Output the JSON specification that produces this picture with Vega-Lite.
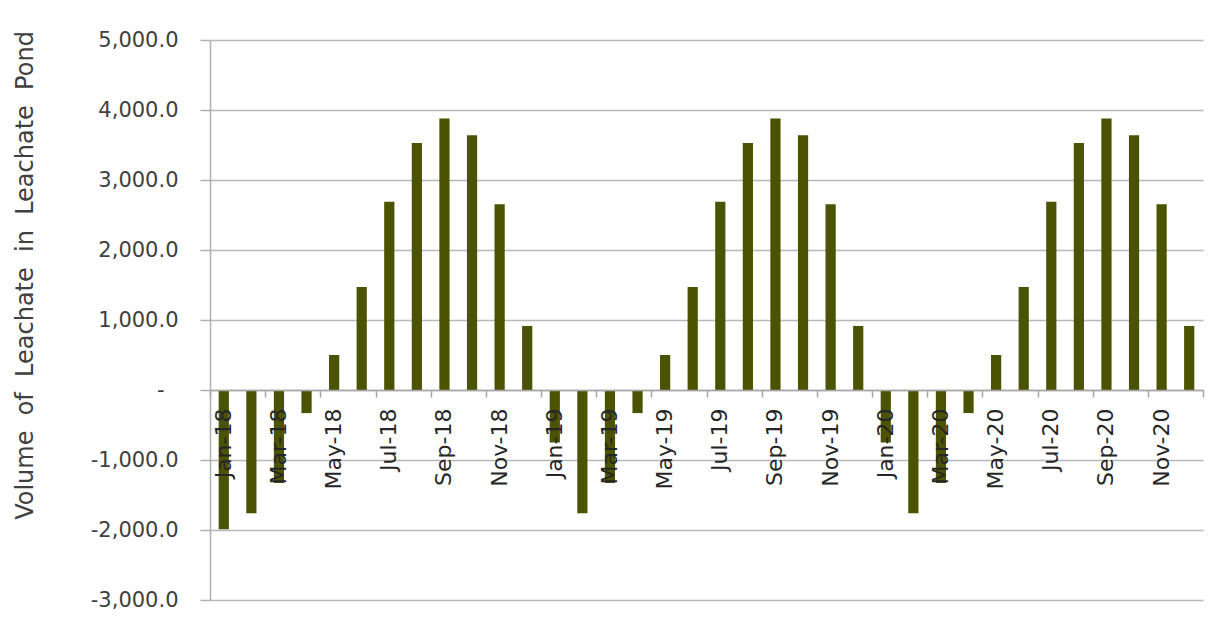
{
  "$schema": "https://vega.github.io/schema/vega-lite/v6.json",
  "autosize": "none",
  "width": 993,
  "height": 560,
  "padding": {"left": 210, "top": 40, "right": 26, "bottom": 22},
  "background": "white",
  "config": {"view": {"stroke": null}},
  "data": {
    "values": [
      {"n": 1, "month": "Jan-18", "volume": -1990},
      {"n": 2, "month": "Feb-18", "volume": -1760},
      {"n": 3, "month": "Mar-18", "volume": -1330},
      {"n": 4, "month": "Apr-18", "volume": -330},
      {"n": 5, "month": "May-18", "volume": 500},
      {"n": 6, "month": "Jun-18", "volume": 1470},
      {"n": 7, "month": "Jul-18", "volume": 2690},
      {"n": 8, "month": "Aug-18", "volume": 3530},
      {"n": 9, "month": "Sep-18", "volume": 3880},
      {"n": 10, "month": "Oct-18", "volume": 3640},
      {"n": 11, "month": "Nov-18", "volume": 2655},
      {"n": 12, "month": "Dec-18", "volume": 915},
      {"n": 13, "month": "Jan-19", "volume": -750},
      {"n": 14, "month": "Feb-19", "volume": -1760},
      {"n": 15, "month": "Mar-19", "volume": -1330},
      {"n": 16, "month": "Apr-19", "volume": -330},
      {"n": 17, "month": "May-19", "volume": 500},
      {"n": 18, "month": "Jun-19", "volume": 1470},
      {"n": 19, "month": "Jul-19", "volume": 2690},
      {"n": 20, "month": "Aug-19", "volume": 3530},
      {"n": 21, "month": "Sep-19", "volume": 3880},
      {"n": 22, "month": "Oct-19", "volume": 3640},
      {"n": 23, "month": "Nov-19", "volume": 2655},
      {"n": 24, "month": "Dec-19", "volume": 915},
      {"n": 25, "month": "Jan-20", "volume": -750},
      {"n": 26, "month": "Feb-20", "volume": -1760},
      {"n": 27, "month": "Mar-20", "volume": -1330},
      {"n": 28, "month": "Apr-20", "volume": -330},
      {"n": 29, "month": "May-20", "volume": 500},
      {"n": 30, "month": "Jun-20", "volume": 1470},
      {"n": 31, "month": "Jul-20", "volume": 2690},
      {"n": 32, "month": "Aug-20", "volume": 3530},
      {"n": 33, "month": "Sep-20", "volume": 3880},
      {"n": 34, "month": "Oct-20", "volume": 3640},
      {"n": 35, "month": "Nov-20", "volume": 2655},
      {"n": 36, "month": "Dec-20", "volume": 915}
    ]
  },
  "resolve": {"scale": {"x": "independent"}, "axis": {"x": "independent"}},
  "layer": [
    {
      "mark": {"type": "bar", "color": "#4b5200"},
      "encoding": {
        "x": {
          "field": "month",
          "type": "ordinal",
          "sort": null,
          "scale": {"paddingInner": 0.63, "paddingOuter": 0.315},
          "axis": {
            "orient": "bottom",
            "title": null,
            "values": ["Jan-18", "Mar-18", "May-18", "Jul-18", "Sep-18", "Nov-18", "Jan-19", "Mar-19", "May-19", "Jul-19", "Sep-19", "Nov-19", "Jan-20", "Mar-20", "May-20", "Jul-20", "Sep-20", "Nov-20"],
            "labelAngle": -90,
            "labelFont": "DejaVu Sans",
            "labelFontSize": 22,
            "labelColor": "#262626",
            "labelPadding": 18,
            "labelOverlap": false,
            "labelBound": false,
            "ticks": false,
            "tickSize": 0,
            "domainColor": "#a6a6a6",
            "domainWidth": 1.5,
            "offset": -210,
            "grid": false,
            "zindex": 2
          }
        },
        "y": {
          "field": "volume",
          "type": "quantitative",
          "scale": {"domain": [-3000, 5000], "nice": false, "zero": false},
          "axis": {
            "values": [-3000, -2000, -1000, 0, 1000, 2000, 3000, 4000, 5000],
            "labelExpr": "datum.value == 0 ? '-' : replace(format(datum.value, ',.1f'), '\u2212', '-')",
            "labelFont": "DejaVu Sans",
            "labelFontSize": 21,
            "labelColor": "#404040",
            "labelPadding": {"condition": {"test": "datum.value == 0", "value": 36}, "value": 22},
            "tickSize": 10,
            "tickColor": "#b0b0b0",
            "tickWidth": 1.5,
            "domainColor": "#b0b0b0",
            "domainWidth": 1.5,
            "grid": true,
            "gridColor": "#b8b8b8",
            "gridWidth": 1.5,
            "title": "Volume\u00a0 of\u00a0 Leachate\u00a0 in\u00a0 Leachate\u00a0 Pond",
            "titleFont": "DejaVu Sans",
            "titleFontSize": 24,
            "titleFontWeight": "normal",
            "titleColor": "#404040",
            "titleAngle": -90,
            "titleAlign": "center",
            "titleBaseline": "middle",
            "titleX": -185,
            "titleY": 235,
            "zindex": 0
          }
        }
      }
    },
    {
      "mark": {"type": "point", "opacity": 0},
      "encoding": {
        "x": {
          "field": "n",
          "type": "quantitative",
          "scale": {"domain": [0, 36], "nice": false, "zero": false},
          "axis": {
            "orient": "bottom",
            "title": null,
            "values": [0, 2, 4, 6, 8, 10, 12, 14, 16, 18, 20, 22, 24, 26, 28, 30, 32, 34, 36],
            "labels": false,
            "domain": false,
            "grid": false,
            "ticks": true,
            "tickSize": 7,
            "tickColor": "#a6a6a6",
            "tickWidth": 1.5,
            "offset": -210,
            "zindex": 2
          }
        },
        "y": {"field": "volume", "type": "quantitative"}
      }
    }
  ]
}
